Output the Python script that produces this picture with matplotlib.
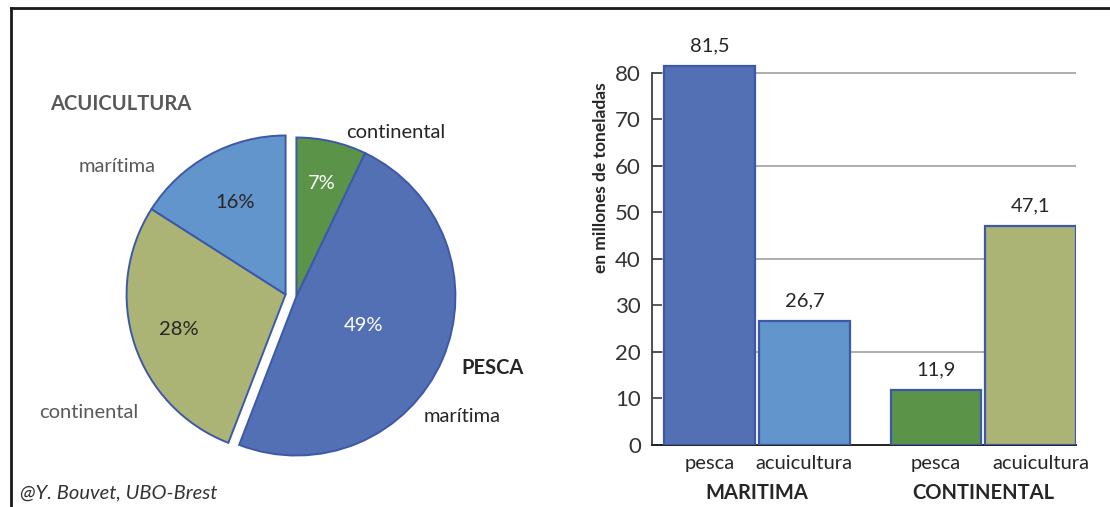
import matplotlib.pyplot as plt
import numpy as np
from matplotlib.lines import Line2D
from matplotlib.transforms import ScaledTranslation

plt.rcParams['font.family'] = ['Lato', 'DejaVu Sans']

# producción mundial, millones de toneladas
grupos = ['MARITIMA', 'CONTINENTAL']
tipos = ['pesca', 'acuicultura', 'pesca', 'acuicultura']
valores = [81.5, 26.7, 11.9, 47.1]
colores = ['#5470b4', '#6395cd', '#5b9449', '#abb474']

# orden del pastel: pesca continental, pesca marítima, acuicultura continental, acuicultura marítima
orden_pastel = [2, 0, 3, 1]
yticks = [0, 10, 20, 30, 40, 50, 60, 70, 80]
rejilla = [20, 40, 60, 80]

W, H = 1110, 507
fig = plt.figure(figsize=(W / 100, H / 100), dpi=100)

borde = '#3d58a8'
gris = '#595959'
oscuro = '#262626'
fs = 14.5

# ---------- pastel ----------
axp = fig.add_axes([0, 0, 560 / W, 1])
vals_p = [valores[i] for i in orden_pastel]
cols_p = [colores[i] for i in orden_pastel]
r = 159
c0 = np.array([291.0, 211.5])
wedges, _ = axp.pie(vals_p, colors=cols_p, startangle=90, counterclock=False,
                    radius=r, center=tuple(c0),
                    wedgeprops=dict(edgecolor=borde, linewidth=1.4))
axp.set_xlim(0, 560)
axp.set_ylim(0, H)
axp.set_aspect('equal')
axp.axis('off')

# separar pesca (dos primeras porciones) de acuicultura
total = sum(vals_p)
ang = np.deg2rad(90 - 180 * (vals_p[0] + vals_p[1]) / total)
desp = 5.5 * np.array([np.cos(ang), np.sin(ang)])
centros = [c0 + desp, c0 + desp, c0 - desp, c0 - desp]
for w, c in zip(wedges, centros):
    w.set_center(tuple(c))

dist = [0.73, 0.46, 0.71, 0.66]
col_pct = ['white', 'white', oscuro, oscuro]
for w, c, v, d, ct in zip(wedges, centros, vals_p, dist, col_pct):
    m = np.deg2rad((w.theta1 + w.theta2) / 2)
    axp.text(c[0] + d * r * np.cos(m), c[1] + d * r * np.sin(m),
             f"{100 * v / total:.0f}%", ha='center', va='center',
             fontsize=fs, color=ct)

def etiqueta(x, y, s, **kw):
    axp.text(x, H - y, s, ha='left', va='center', fontsize=fs, **kw)

etiqueta(50, 104, 'ACUICULTURA', color=gris, fontweight='bold')
etiqueta(79, 166, 'marítima', color=gris)
etiqueta(39, 412, 'continental', color=gris)
etiqueta(346, 132, 'continental', color=oscuro)
etiqueta(461, 368, 'PESCA', color=oscuro, fontweight='bold')
etiqueta(424, 417, 'marítima', color=oscuro)
etiqueta(20, 493, '@Y. Bouvet, UBO-Brest', color='#333333', style='italic')

# ---------- barras ----------
axb = fig.add_axes([652 / W, (H - 445) / H, 424 / W, 405 / H])
xs = [0, 1, 2.39, 3.39]
axb.bar(xs, valores, width=0.96, color=colores, edgecolor=borde,
        linewidth=1.6, zorder=3)
axb.set_xlim(-0.61, 3.87)
axb.set_ylim(0, 405 / 4.654)
for g in rejilla:
    axb.axhline(g, color='#a0a0a0', lw=1.2, zorder=1)

for x, v in zip(xs, valores):
    axb.annotate(f"{v:.1f}".replace('.', ','), (x, v), xytext=(0, 8),
                 textcoords='offset points', ha='center', va='bottom',
                 fontsize=fs, color=oscuro, annotation_clip=False)

for s in ['top', 'right']:
    axb.spines[s].set_visible(False)
axb.spines['left'].set_color('#404040')
axb.spines['left'].set_linewidth(1.3)
axb.spines['left'].set_bounds(0, 80)
axb.spines['bottom'].set_color('#222222')
axb.spines['bottom'].set_linewidth(1.4)
axb.set_yticks(yticks)
axb.tick_params(axis='y', direction='in', length=7, width=1.2,
                color='#404040', pad=8, labelsize=16, labelcolor='#333333')
axb.set_xticks(xs)
axb.set_xticklabels(tipos)
axb.tick_params(axis='x', length=0, pad=7, labelsize=fs, labelcolor=oscuro)

# la última etiqueta va un poco a la derecha
ult = axb.get_xticklabels()[3]
ult.set_transform(ult.get_transform() + ScaledTranslation(0.1, 0, fig.dpi_scale_trans))

for i, g in enumerate(grupos):
    xc = (xs[2 * i] + xs[2 * i + 1]) / 2
    axb.text(xc, -48 / 405, g, transform=axb.get_xaxis_transform(),
             ha='center', va='center', fontsize=fs, fontweight='bold',
             color=oscuro)

fig.text(601 / W, 1 - 177.5 / H, 'en millones de toneladas', rotation=90,
         ha='center', va='center', fontsize=12.5, fontweight='bold', color=oscuro)

# marco superior e izquierdo
fig.add_artist(Line2D([10.5 / W, 1], [1 - 8 / H, 1 - 8 / H], color='#1a1a1a', lw=2))
fig.add_artist(Line2D([10.5 / W, 10.5 / W], [0, 1 - 8 / H], color='#1a1a1a', lw=2))

fig.savefig('out.png', dpi=100)
